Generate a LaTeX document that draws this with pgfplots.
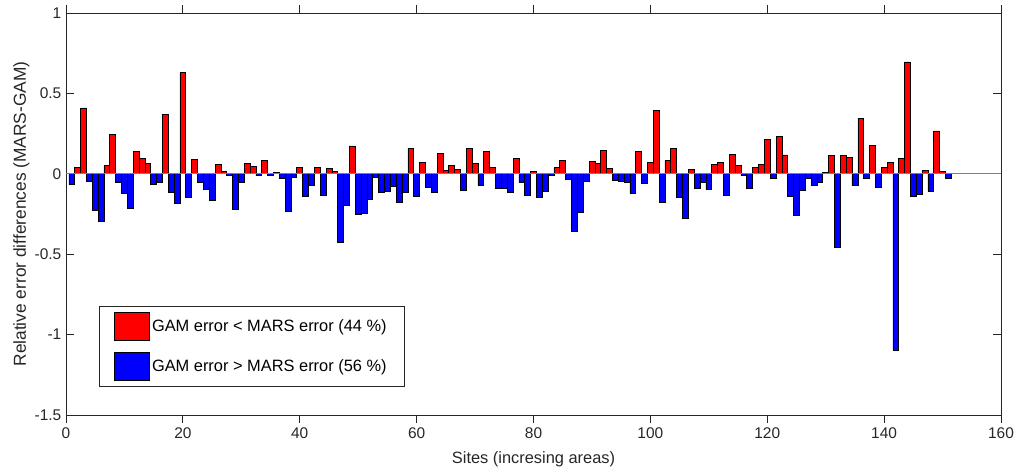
\documentclass[border=0pt]{standalone}
\usepackage{pgfplots}
\pgfplotsset{compat=1.18}
\usepackage{fontspec}
\setmainfont{Liberation Sans}
\definecolor{axgray}{rgb}{0.15,0.15,0.15}
\begin{document}
\begin{tikzpicture}
\useasboundingbox (-49.5pt,-40.5pt) rectangle (711.75pt,311.25pt);
\begin{axis}[
  at={(0,0)}, anchor=south west,
  scale only axis, width=701.25pt, height=301.5pt,
  xmin=0, xmax=160, ymin=-1.5, ymax=1,
  xtick={0,20,...,160},
  ytick={-1.5,-1,-0.5,0,0.5,1},
  yticklabels={-1.5,-1,-0.5,0,0.5,1},
  tick align=inside, tick pos=both,
  major tick length=6pt,
  axis line style={axgray, line width=0.6pt},
  tick style={axgray, line width=0.6pt},
  every tick label/.append style={font=\fontsize{11.6}{13}\selectfont, text=axgray},
  /pgf/number format/assume math mode=true,
  xlabel={Sites (incresing areas)},
  ylabel={Relative error differences (MARS-GAM)},
  xlabel style={font=\fontsize{12.3}{14}\selectfont, text=axgray, yshift=-3pt},
  ylabel style={font=\fontsize{13}{14}\selectfont, text=axgray, yshift=-3pt},
  ybar, bar width=1, /pgf/bar shift=0pt,
  legend cell align=left,
  legend style={at={(0.0353,0.271)}, anchor=north west, draw=axgray, line width=0.5pt,
    font=\fontsize{12.3}{14}\selectfont, inner xsep=11pt, inner ysep=4pt,
    row sep=9pt},
  legend image code/.code={\draw[#1, line width=0.5pt] (0pt,-10.5pt) rectangle (26pt,10.5pt);},
]
\addplot[ybar, fill=red, draw=black, line width=0.5pt] coordinates {
(2,0.04) (3,0.41) (7,0.05) (8,0.244) (12,0.1375) (13,0.098) (14,0.0625) (17,0.367) (20,0.629) (22,0.09) (26,0.056) (27,0.015) (31,0.067) (32,0.044) (34,0.083) (36,0.008) (40,0.0375) (43,0.0375) (45,0.031) (46,0.015) (49,0.173) (59,0.16) (61,0.069) (64,0.125) (65,0.019) (66,0.05) (67,0.027) (69,0.156) (70,0.0625) (72,0.1375) (73,0.0375) (77,0.096) (80,0.017) (84,0.0375) (85,0.085) (90,0.079) (91,0.0625) (92,0.144) (93,0.031) (98,0.1375) (100,0.069) (101,0.396) (103,0.081) (104,0.156) (107,0.027) (111,0.058) (112,0.069) (114,0.119) (115,0.05) (118,0.0375) (119,0.058) (120,0.2125) (122,0.233) (123,0.117) (130,0.01) (131,0.115) (133,0.115) (134,0.102) (136,0.346) (138,0.179) (140,0.0375) (141,0.069) (143,0.098) (144,0.696) (147,0.021) (149,0.267) (150,0.017)
};
\addlegendentry{GAM error < MARS error (44 \%)}
\addplot[ybar, fill=blue, draw=black, line width=0.5pt] coordinates {
(1,-0.067) (4,-0.044) (5,-0.225) (6,-0.294) (9,-0.056) (10,-0.123) (11,-0.2125) (15,-0.0625) (16,-0.054) (18,-0.1125) (19,-0.183) (21,-0.148) (23,-0.05) (24,-0.096) (25,-0.167) (28,-0.0125) (29,-0.219) (30,-0.05) (33,-0.0125) (35,-0.0125) (37,-0.031) (38,-0.234) (39,-0.019) (41,-0.142) (42,-0.071) (44,-0.131) (47,-0.427) (48,-0.196) (50,-0.254) (51,-0.248) (52,-0.16) (53,-0.021) (54,-0.117) (55,-0.106) (56,-0.079) (57,-0.177) (58,-0.117) (60,-0.1375) (62,-0.085) (63,-0.1125) (68,-0.102) (71,-0.073) (74,-0.09) (75,-0.09) (76,-0.1125) (78,-0.05) (79,-0.131) (81,-0.144) (82,-0.108) (83,-0.008) (86,-0.033) (87,-0.358) (88,-0.242) (89,-0.044) (94,-0.0375) (95,-0.044) (96,-0.056) (97,-0.119) (99,-0.06) (102,-0.177) (105,-0.144) (106,-0.277) (108,-0.09) (109,-0.056) (110,-0.096) (113,-0.131) (116,-0.0125) (117,-0.09) (121,-0.031) (124,-0.142) (125,-0.26) (126,-0.102) (127,-0.031) (128,-0.073) (129,-0.056) (132,-0.458) (135,-0.073) (137,-0.031) (139,-0.085) (142,-1.098) (145,-0.142) (146,-0.125) (148,-0.108) (151,-0.031)
};
\addlegendentry{GAM error > MARS error (56 \%)}
\addplot[sharp plot, no marks, draw=gray, line width=0.6pt, forget plot] coordinates {(0,0) (160,0)};
\end{axis}
\end{tikzpicture}
\end{document}
